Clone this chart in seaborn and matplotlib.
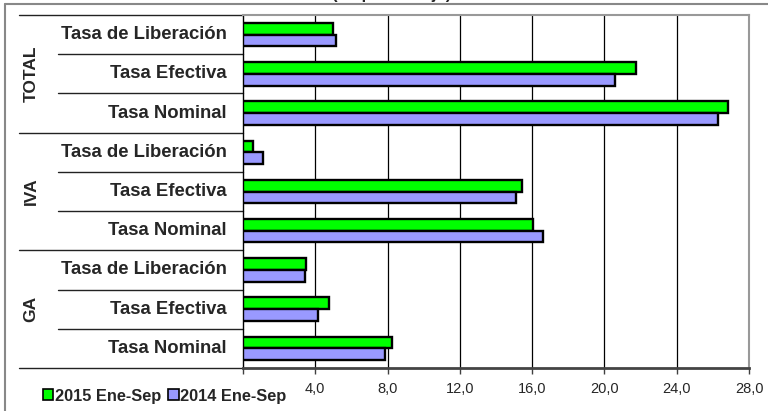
import pandas as pd
import matplotlib.pyplot as plt
import seaborn as sns
from matplotlib.lines import Line2D
from matplotlib.patches import Patch
import matplotlib.transforms as mtransforms

# Data (percent), top to bottom
groups = ['TOTAL', 'IVA', 'GA']
tasas = ['Tasa de Liberación', 'Tasa Efectiva', 'Tasa Nominal']
s2015 = [5.0, 21.75, 26.85, 0.55, 15.45, 16.05, 3.5, 4.75, 8.25]
s2014 = [5.15, 20.6, 26.3, 1.1, 15.1, 16.6, 3.45, 4.15, 7.85]
series = ['2015 Ene-Sep', '2014 Ene-Sep']
xticks = [0, 4, 8, 12, 16, 20, 24, 28]

rows = []
for i in range(len(s2015)):
    key = groups[i // 3] + ' ' + tasas[i % 3]
    rows.append({'cat': key, 'serie': series[0], 'valor': s2015[i]})
    rows.append({'cat': key, 'serie': series[1], 'valor': s2014[i]})
df = pd.DataFrame(rows)
cats = list(dict.fromkeys(df['cat']))

sns.set_style('white')
plt.rcParams['font.family'] = ['Liberation Sans', 'DejaVu Sans']

fig = plt.figure(figsize=(7.68, 4.11), dpi=100)
ax = fig.add_axes([243 / 768, 1 - 368 / 411, 506 / 768, 353 / 411])

colors = {'2015 Ene-Sep': '#00FF00', '2014 Ene-Sep': '#9999FF'}
sns.barplot(data=df, x='valor', y='cat', hue='serie', order=cats, hue_order=series,
            palette=colors, saturation=1, orient='h', width=0.6, dodge=True,
            edgecolor='black', linewidth=1.7, ax=ax, legend=False, zorder=3)

ax.set_xlim(0, 28)
ax.set_ylim(len(cats) - 0.5, -0.5)
ax.set_xticks(xticks)
ax.set_xticklabels(['' if v == 0 else f'{v:.1f}'.replace('.', ',') for v in xticks], fontsize=10.5)
ax.set_yticks([])
ax.set_xlabel('')
ax.set_ylabel('')
ax.tick_params(axis='x', direction='out', length=4, width=1, color='#404040', pad=6, bottom=True)
for x in xticks[1:-1]:
    ax.axvline(x, color='black', lw=0.9, zorder=1)

ax.spines['top'].set_color('#999999')
ax.spines['right'].set_color('#999999')
ax.spines['top'].set_linewidth(1.5)
ax.spines['right'].set_linewidth(1.5)
ax.spines['bottom'].set_color('#444444')
ax.spines['bottom'].set_linewidth(2)
ax.spines['left'].set_color('black')
ax.spines['left'].set_linewidth(1)

# category labels and separators
trans = mtransforms.blended_transform_factory(ax.transAxes, ax.transData)
for i in range(len(cats)):
    ax.text(-0.032, i, tasas[i % 3], transform=trans, ha='right', va='center',
            fontsize=13.3, fontweight='bold')
for b in range(len(cats) + 1):
    x0 = -0.443 if b % 3 == 0 else -0.366
    ax.add_line(Line2D([x0, 0], [b - 0.5, b - 0.5], transform=trans, color='#222222',
                       lw=1, clip_on=False))
for g, name in enumerate(groups):
    ax.text(-0.419, g * 3 + 1, name, transform=trans, ha='center', va='center',
            rotation=90, fontsize=12.5, fontweight='bold')

# title (cut off at top edge of the image, as in the source)
fig.text(0.51, 1.0 + 1.5 / 411, '(en porcentaje)', ha='center', va='baseline',
         fontsize=12, fontweight='bold')

# outer border
fig.add_artist(Line2D([4.5 / 768, 1], [1 - 4.5 / 411, 1 - 4.5 / 411], transform=fig.transFigure,
                      color='#888888', lw=1.5))
fig.add_artist(Line2D([4.5 / 768, 4.5 / 768], [0, 1 - 4.5 / 411], transform=fig.transFigure,
                      color='#888888', lw=1.5))

handles = [Patch(facecolor=colors[s], edgecolor='black', lw=1.2) for s in series]
fig.legend(handles, series, loc='center left', bbox_to_anchor=(28 / 768, 1 - 396 / 411),
           ncol=2, frameon=False, handlelength=0.65, handleheight=0.65, handletextpad=0.1,
           columnspacing=0.4, prop={'size': 11.8, 'weight': 'bold'})

fig.savefig('out.png', dpi=100)
